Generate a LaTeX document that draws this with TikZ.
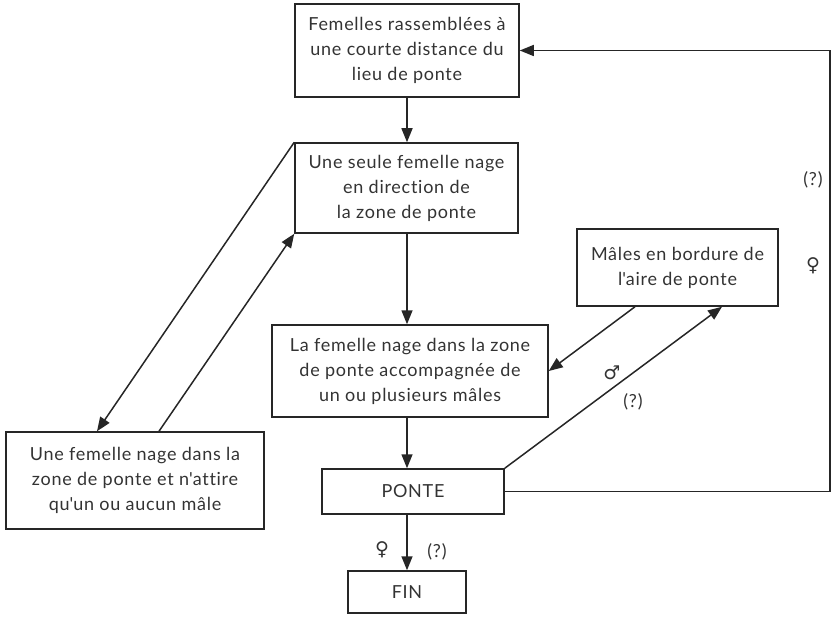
\documentclass[tikz,border=0pt]{standalone}
\usepackage{fontspec}
\setmainfont{Lato}[LetterSpace=4, Ligatures={NoCommon}]
\newfontfamily\symfont{DejaVu Sans}
\usetikzlibrary{arrows.meta}
\begin{document}
\begin{tikzpicture}[x=1bp,y=-1bp,
  box/.style={draw=black!85, line width=1.5bp, rectangle, align=center, inner sep=0pt,
    text=black!80, font=\fontsize{18bp}{25bp}\selectfont},
  arr/.style={draw=black!85, line width=1.5bp, -{Triangle[length=14bp,width=11bp]}},
  lbl/.style={text=black!80, font=\fontsize{18bp}{20bp}\selectfont, inner sep=0pt},
  sym/.style={text=black!80, font=\symfont\fontsize{19bp}{20bp}\selectfont, inner sep=0pt}]
\useasboundingbox (0,0) rectangle (836,617);
\node[box, minimum width=224bp, minimum height=93bp] (top) at (407,50.5)
  {Femelles rassemblées à\\une courte distance du\\lieu de ponte};
\node[box, minimum width=223bp, minimum height=90bp] (b2) at (406.5,188)
  {Une seule femelle nage\\en direction de\\la zone de ponte};
\node[box, minimum width=276bp, minimum height=92bp] (b3) at (410,371)
  {La femelle nage dans la zone\\de ponte accompagnée de\\un ou plusieurs mâles};
\node[box, minimum width=258bp, minimum height=97bp] (left) at (135,480.5)
  {Une femelle nage dans la\\zone de ponte et n\textquotesingle attire\\qu\textquotesingle un ou aucun mâle};
\node[box, minimum width=201bp, minimum height=77bp] (males) at (677.5,267.5)
  {Mâles en bordure de\\l\textquotesingle aire de ponte};
\node[box, minimum width=182bp, minimum height=45bp] (ponte) at (413,491.5) {PONTE};
\node[box, minimum width=118bp, minimum height=42bp] (fin) at (407,592) {FIN};
\coordinate (rc) at (830,0);

\draw[arr] (top.south) -- (b2.north -| top.south);
\draw[arr] (b2.south -| top.south) -- (b3.north -| top.south);
\draw[arr] (b3.south -| top.south) -- (ponte.north -| top.south);
\draw[arr] (ponte.south -| top.south) -- (fin.north -| top.south);

\draw[arr] (b2.north west) -- ([xshift=-38bp]left.north);
\draw[arr] ([xshift=24bp]left.north) -- (b2.south west);
\draw[arr] ([xshift=-42.5bp]males.south) -- (b3.east);
\draw[arr] (ponte.north east) -- ([xshift=44.5bp]males.south);
\draw[arr] (ponte.east) -- (ponte.east -| rc) -- (top.east -| rc) -- (top.east);

\node[sym] (m1) at (612,373) {♂};
\node[lbl] (q1) at (633,402) {(?)};
\node[lbl] (q2) at (813,180) {(?)};
\node[sym] (f1) at (813,266) {♀};
\node[sym] (f2) at (382,550) {♀};
\node[lbl] (q3) at (437,552) {(?)};
\end{tikzpicture}
\end{document}
